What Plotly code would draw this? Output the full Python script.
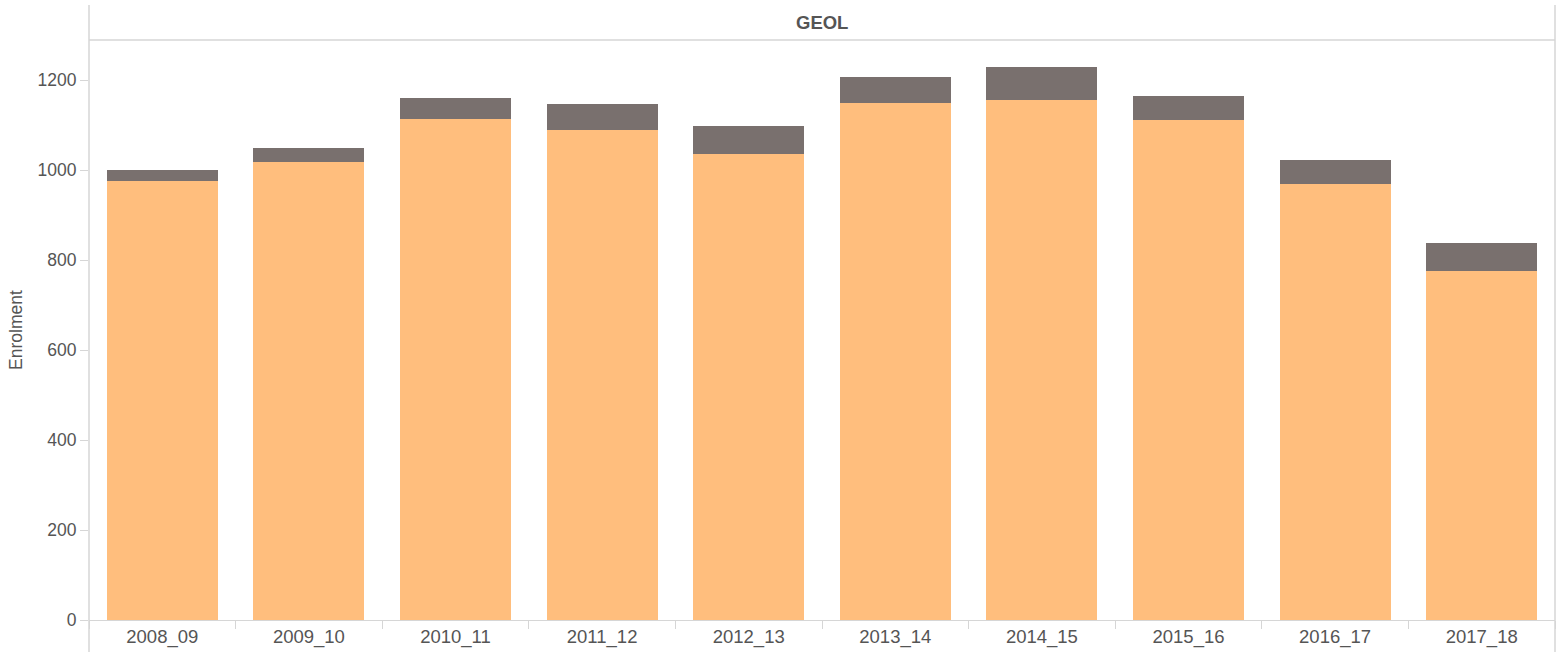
import plotly.graph_objects as go

years = ["2008_09", "2009_10", "2010_11", "2011_12", "2012_13",
         "2013_14", "2014_15", "2015_16", "2016_17", "2017_18"]
lower_values = [976, 1018, 1113, 1089, 1036, 1149, 1156, 1111, 969, 776]
upper_values = [24, 31, 47, 58, 62, 58, 73, 53, 53, 62]
y_ticks = [0, 200, 400, 600, 800, 1000, 1200]
panel_title = "GEOL"
y_title = "Enrolment"

ORANGE = "#FFBE7D"
GRAY = "#79706E"
TXT = "#555555"
LINE = "#d6d6d6"
FONT = "Liberation Sans, Arial, sans-serif"

fig = go.Figure()
fig.add_trace(go.Bar(x=years, y=lower_values, marker=dict(color=ORANGE, line=dict(width=0)),
                     width=0.757, name="a"))
fig.add_trace(go.Bar(x=years, y=upper_values, marker=dict(color=GRAY, line=dict(width=0)),
                     width=0.757, name="b"))

H = 652
mt, mb, ml, mr = 40, 32, 89, 2
ph = H - mt - mb

def py(pix):
    return (H - mb - pix) / ph

fig.update_layout(
    barmode="stack",
    width=1557, height=H,
    margin=dict(l=ml, r=mr, t=mt, b=mb, pad=0),
    paper_bgcolor="white", plot_bgcolor="white",
    showlegend=False,
    font=dict(family=FONT, size=18, color=TXT),
    xaxis=dict(type="category", showgrid=False, zeroline=False,
               showline=True, linecolor=LINE, linewidth=1,
               ticks="outside", tickson="boundaries", ticklen=8, tickcolor=LINE,
               tickfont=dict(size=18.5, color=TXT), range=[-0.5, 9.5]),
    yaxis=dict(range=[0, 1289], tickvals=y_ticks, showgrid=False, zeroline=False,
               showline=False, ticks="outside", ticklen=8, tickcolor=LINE,
               tickfont=dict(size=17.5, color=TXT),
               title=dict(text=y_title, font=dict(size=17.5, color=TXT), standoff=10)),
    shapes=[
        dict(type="line", xref="paper", yref="paper", x0=0, x1=0, y0=py(652), y1=py(5),
             line=dict(color=LINE, width=1.5)),
        dict(type="line", xref="paper", yref="paper", x0=1, x1=1, y0=py(652), y1=py(5),
             line=dict(color=LINE, width=1.5)),
        dict(type="line", xref="paper", yref="paper", x0=0, x1=1, y0=1, y1=1,
             line=dict(color=LINE, width=1.5)),
    ],
    annotations=[
        dict(text="<b>" + panel_title + "</b>", xref="paper", yref="paper", x=0.5, y=py(22),
             showarrow=False, font=dict(size=18.5, color=TXT, family=FONT),
             xanchor="center", yanchor="middle"),
    ],
)

fig.write_html("out.html", config={"displayModeBar": False},
               post_script="document.body.style.margin='0';document.body.style.overflow='hidden';")
